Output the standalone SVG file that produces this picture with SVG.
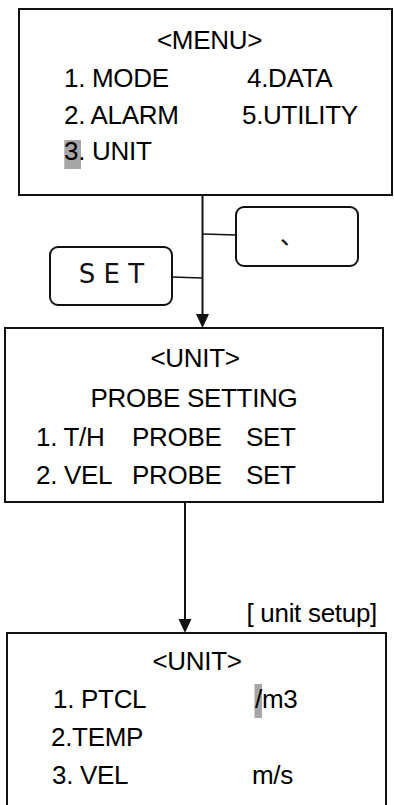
<svg xmlns="http://www.w3.org/2000/svg" width="394" height="805" viewBox="0 0 394 805">
<style>
.box{fill:#fff;stroke:#111;stroke-width:2}
.btn{fill:#fff;stroke:#111;stroke-width:2}
.lcd{font-family:"Liberation Sans",Arial,sans-serif;font-size:26px;fill:#000;letter-spacing:-0.3px}
.mid{text-anchor:middle}
.hl{fill:#a6a6a6}
.conn{stroke:#111;stroke-width:2;fill:none}
.thin{stroke:#111;stroke-width:1.5;fill:none}
.head{fill:#111}
</style>
<rect width="394" height="805" fill="#fff"/>
<g id="connectors">
<line class="conn" x1="202.5" y1="195" x2="202.5" y2="316"/>
<polygon class="head" points="196,314 209,314 202.5,328"/>
<line class="thin" x1="203" y1="234" x2="236" y2="235"/>
<line class="thin" x1="172" y1="277" x2="202" y2="278"/>
<line class="conn" x1="185" y1="502" x2="185" y2="621"/>
<polygon class="head" points="178.5,619 191.5,619 185,633"/>
</g>
<g id="menu">
<rect class="box" x="19" y="9" width="373" height="186"/>
<rect class="hl" x="64.3" y="140" width="16.7" height="29"/>
<text class="lcd mid" x="209.5" y="49">&lt;MENU&gt;</text>
<text class="lcd" x="64" y="87">1. MODE</text>
<text class="lcd" x="247" y="87">4.DATA</text>
<text class="lcd" x="64" y="124">2. ALARM</text>
<text class="lcd" x="242" y="124">5.UTILITY</text>
<text class="lcd" x="64" y="160">3. UNIT</text>
</g>
<g id="btn-comma">
<rect class="btn" x="236" y="207" width="122" height="59" rx="8"/>
<text x="280" y="244" font-family="'Noto Sans CJK JP',sans-serif" font-size="24" fill="#111">、</text>
</g>
<g id="btn-set">
<rect class="btn" x="50" y="247" width="122" height="58" rx="8"/>
<text x="111.5" y="283" text-anchor="middle" font-family="'DejaVu Sans',sans-serif" font-size="26" fill="#111">S E T</text>
</g>
<g id="unit-probe">
<rect class="box" x="5" y="328" width="378" height="174"/>
<text class="lcd mid" x="195" y="367">&lt;UNIT&gt;</text>
<text class="lcd mid" x="194" y="407">PROBE SETTING</text>
<text class="lcd" x="36" y="446">1. T/H</text>
<text class="lcd" x="132" y="446">PROBE</text>
<text class="lcd" x="246" y="446">SET</text>
<text class="lcd" x="36" y="484">2. VEL</text>
<text class="lcd" x="132" y="484">PROBE</text>
<text class="lcd" x="246" y="484">SET</text>
</g>
<g id="unit-setup">
<text class="lcd" x="377" y="622" text-anchor="end">[ unit setup]</text>
<path class="box" d="M7,807 V633 H386 V807"/>
<rect class="hl" x="254.5" y="684" width="7.5" height="34"/>
<text class="lcd mid" x="197" y="670">&lt;UNIT&gt;</text>
<text class="lcd" x="53" y="708">1. PTCL</text>
<text class="lcd" x="255" y="708">/m3</text>
<text class="lcd" x="51" y="746">2.TEMP</text>
<text class="lcd" x="52" y="784">3. VEL</text>
<text class="lcd" x="252" y="784">m/s</text>
</g>
</svg>
